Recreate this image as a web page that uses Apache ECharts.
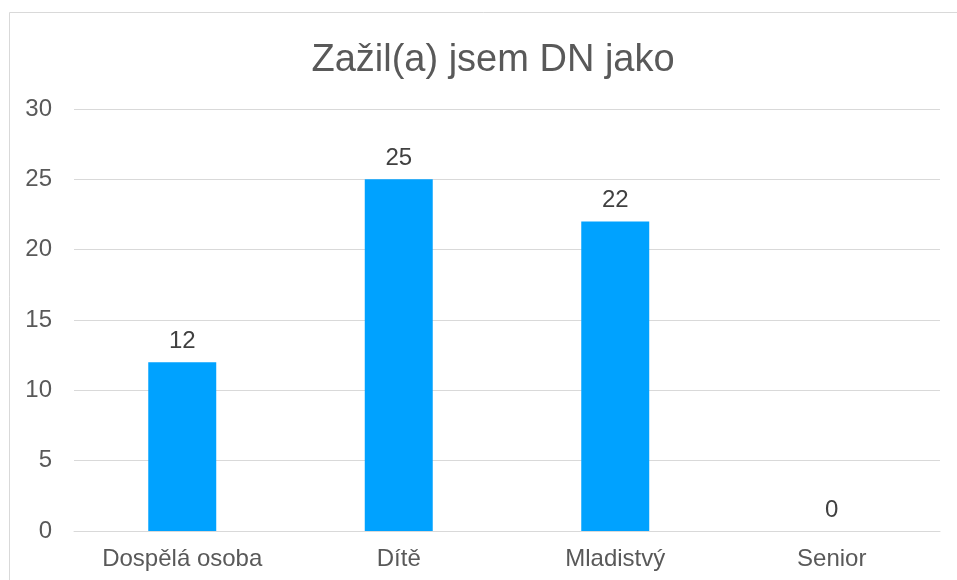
<!DOCTYPE html>
<html>
<head>
<meta charset="utf-8">
<style>
html,body{margin:0;padding:0;background:#fff;}
#chart{width:957px;height:580px;}
</style>
<script src="https://cdn.jsdelivr.net/npm/echarts@6/dist/echarts.min.js"></script>
</head>
<body>
<div id="chart"></div>
<script>
const titleText = 'Zažil(a) jsem DN jako';
const categories = ['Dospělá osoba', 'Dítě', 'Mladistvý', 'Senior'];
const values = [12, 25, 22, 0];

const chart = echarts.init(document.getElementById('chart'));
chart.setOption({
  animation: false,
  backgroundColor: '#ffffff',
  textStyle: { fontFamily: 'Liberation Sans, Arial, sans-serif' },
  graphic: [{
    type: 'rect',
    shape: { x: 9.5, y: 12.5, width: 1000, height: 600 },
    style: { fill: 'none', stroke: '#d9d9d9', lineWidth: 1 },
    silent: true
  }],
  title: {
    text: titleText,
    left: 488,
    textAlign: 'center',
    top: 37,
    textStyle: { fontSize: 38, fontWeight: 'normal', color: '#595959', fontFamily: 'Liberation Sans, Arial, sans-serif' }
  },
  grid: { left: 74, right: 17, top: 109, bottom: 49, containLabel: false },
  xAxis: {
    type: 'category',
    data: categories,
    axisLine: { show: true, lineStyle: { color: '#d9d9d9', width: 1 } },
    axisTick: { show: false },
    axisLabel: { color: '#595959', fontSize: 24, margin: 16 }
  },
  yAxis: {
    type: 'value',
    min: 0, max: 30, interval: 5,
    axisLine: { show: false },
    axisTick: { show: false },
    splitLine: { lineStyle: { color: '#d9d9d9', width: 1 } },
    axisLabel: { color: '#595959', fontSize: 24, margin: 22 }
  },
  series: [{
    type: 'bar',
    data: values,
    barWidth: '31.4%',
    itemStyle: { color: '#00a2ff' },
    label: { show: true, position: 'top', distance: 9, color: '#404040', fontSize: 24 }
  }]
});
</script>
</body>
</html>
